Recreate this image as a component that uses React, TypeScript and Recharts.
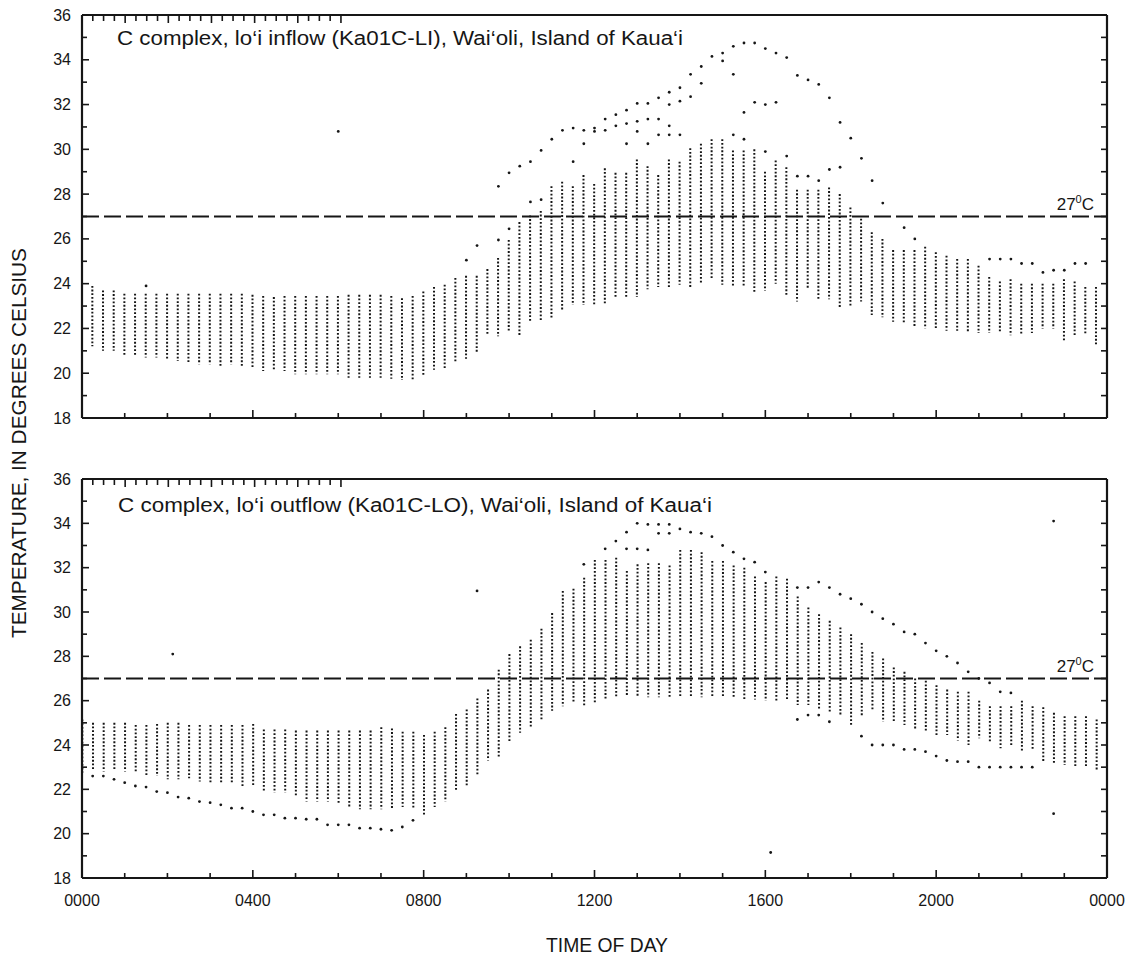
import React from "react";
import { ComposedChart, Bar, Scatter, XAxis, YAxis, ReferenceLine } from "recharts";

// 15-minute slots, slot 0 = 0000 ... slot 95 = 2345
const hourTicks = [0, 1, 2, 3, 4, 5, 6, 7, 8, 9, 10, 11, 12, 13, 14, 15, 16, 17, 18, 19, 20, 21, 22, 23, 24];
const degreeTicks = [18, 19, 20, 21, 22, 23, 24, 25, 26, 27, 28, 29, 30, 31, 32, 33, 34, 35, 36];
const timeLabels = ["0000", "0400", "0800", "1200", "1600", "2000", "0000"];

const inflowHigh = [
  23.9, 23.9, 23.7, 23.7, 23.55, 23.55, 23.55, 23.55, 23.55, 23.55,
  23.55, 23.55, 23.55, 23.55, 23.55, 23.55, 23.5, 23.45, 23.4, 23.45,
  23.45, 23.45, 23.45, 23.45, 23.45, 23.5, 23.5, 23.5, 23.5, 23.45,
  23.35, 23.45, 23.65, 23.85, 23.95, 24.25, 24.35, 24.35, 24.65, 25.15,
  25.95, 26.75, 27.05, 27.25, 28.35, 28.55, 28.35, 28.85, 28.45, 29.15,
  28.95, 28.95, 29.55, 29.25, 28.85, 29.55, 29.45, 30.05, 30.25, 30.45,
  30.45, 29.95, 29.95, 30.0, 29.0, 29.5, 29.2, 28.2, 28.2, 28.2,
  28.3, 28.0, 27.4, 26.9, 26.3, 26.0, 25.5, 25.5, 25.5, 25.65,
  25.4, 25.25, 25.1, 25.1, 24.8, 24.3, 24.1, 24.2, 24.0, 24.0,
  24.0, 24.0, 24.2, 24.1, 23.85, 23.85,
];

const inflowLow = [
  21.2, 21.2, 21.0, 21.0, 20.8, 20.8, 20.7, 20.7, 20.6, 20.55,
  20.5, 20.4, 20.4, 20.25, 20.4, 20.25, 20.2, 20.1, 20.1, 20.1,
  19.95, 19.95, 19.95, 19.95, 19.95, 19.8, 19.8, 19.8, 19.8, 19.75,
  19.7, 19.7, 19.85, 20.15, 20.15, 20.5, 20.65, 20.95, 21.7, 21.65,
  21.85, 21.7, 22.25, 22.35, 22.45, 22.8, 23.05, 23.05, 23.05, 23.1,
  23.35, 23.4, 23.4, 23.75, 23.85, 23.85, 23.95, 23.85, 24.05, 24.25,
  23.95, 23.85, 23.85, 23.6, 23.7, 24.0, 23.5, 23.2, 23.8, 23.3,
  23.3, 22.9, 23.0, 23.2, 22.6, 22.5, 22.3, 22.2, 22.1, 22.0,
  22.0, 21.9, 21.9, 21.8, 21.8, 21.8, 21.8, 21.7, 21.7, 21.8,
  22.0, 22.0, 21.4, 21.7, 21.7, 21.2,
];

// isolated readings outside the main band: [slot, temperature]
const inflowOutliers: [number, number][] = [
  [6, 23.9], [24, 30.8], [36, 25.05], [37, 25.7], [39, 25.95], [39, 28.35],
  [40, 26.45], [40, 28.95], [41, 29.25], [42, 27.65], [42, 29.45], [43, 27.75],
  [43, 29.95], [44, 30.45], [45, 30.85], [46, 29.45], [46, 30.95], [47, 30.25],
  [47, 30.85], [48, 30.8], [48, 30.95], [49, 30.85], [49, 31.35], [50, 31.05],
  [50, 31.55], [51, 30.25], [51, 31.15], [51, 31.75], [52, 30.8], [52, 31.25],
  [52, 32.05], [53, 30.25], [53, 31.35], [53, 32.05], [54, 30.65], [54, 31.35],
  [54, 32.3], [55, 30.65], [55, 31.05], [55, 32.0], [55, 32.55], [56, 30.65],
  [56, 32.15], [56, 32.75], [57, 32.35], [57, 33.35], [58, 32.95], [58, 33.7],
  [59, 34.15], [60, 33.95], [60, 34.3], [61, 30.65], [61, 33.35], [61, 34.6],
  [62, 30.45], [62, 31.65], [62, 34.75], [63, 32.1], [63, 34.75], [64, 29.9],
  [64, 32.0], [64, 34.5], [65, 32.1], [65, 34.3], [66, 29.7], [66, 34.1],
  [67, 28.8], [67, 33.3], [68, 28.8], [68, 33.1], [69, 28.6], [69, 32.9],
  [70, 29.1], [70, 32.3], [71, 29.2], [71, 31.2], [72, 30.5], [73, 29.6],
  [74, 28.6], [75, 27.6], [77, 26.5], [78, 26.0], [85, 25.1], [86, 25.1],
  [87, 25.1], [88, 24.9], [89, 24.9], [90, 24.5], [91, 24.6], [92, 24.6],
  [93, 24.9], [94, 24.9],
];

const outflowHigh = [
  25.15, 25.0, 25.0, 25.0, 25.0, 24.9, 24.9, 24.95, 25.0, 25.0,
  24.9, 24.9, 24.9, 24.9, 24.9, 24.9, 24.95, 24.7, 24.7, 24.7,
  24.65, 24.65, 24.65, 24.65, 24.65, 24.65, 24.65, 24.65, 24.8, 24.75,
  24.6, 24.6, 24.45, 24.6, 24.8, 25.4, 25.6, 26.1, 26.5, 27.4,
  28.1, 28.45, 28.75, 29.25, 29.95, 30.95, 31.05, 31.55, 32.35, 32.35,
  32.45, 31.85, 32.15, 32.2, 32.2, 32.1, 32.8, 32.8, 32.7, 32.3,
  32.3, 32.1, 32.0, 31.6, 31.35, 31.6, 31.5, 30.7, 30.2, 29.9,
  29.6, 29.3, 29.0, 28.6, 28.2, 27.9, 27.5, 27.3, 27.0, 26.9,
  26.7, 26.5, 26.4, 26.4, 26.0, 25.75, 25.75, 25.75, 26.0, 25.75,
  25.7, 25.45, 25.3, 25.3, 25.3, 25.15,
];

const outflowLow = [
  22.75, 22.9, 22.8, 22.9, 22.8, 22.8, 22.6, 22.6, 22.45, 22.45,
  22.5, 22.35, 22.3, 22.3, 22.3, 22.15, 22.2, 21.9, 21.85, 21.85,
  21.7, 21.45, 21.45, 21.45, 21.4, 21.15, 21.1, 21.1, 21.1, 21.15,
  21.2, 21.15, 20.85, 21.2, 21.45, 21.9, 22.1, 22.65, 23.3, 23.45,
  24.15, 24.55, 24.75, 25.15, 25.55, 25.75, 25.9, 25.75, 25.9, 26.05,
  26.2, 26.2, 26.2, 26.15, 26.15, 26.15, 26.15, 26.15, 26.15, 26.15,
  26.15, 26.15, 26.0, 26.05, 26.0, 26.0, 26.0, 25.8, 25.8, 25.65,
  25.45, 25.35, 24.9, 25.3, 25.6, 25.05, 25.05, 24.9, 24.7, 24.6,
  24.45, 24.45, 24.2, 24.0, 24.3, 24.1, 23.85, 24.0, 23.7, 23.8,
  23.25, 23.15, 23.1, 23.0, 23.0, 22.85,
];

const outflowOutliers: [number, number][] = [
  [1, 22.6], [2, 22.6], [3, 22.45], [4, 22.3], [5, 22.15], [6, 22.1], [7, 21.9],
  [8, 21.85], [9, 21.65], [10, 21.6], [11, 21.45], [12, 21.4], [13, 21.3],
  [14, 21.15], [15, 21.15], [16, 21.0], [17, 20.85], [18, 20.85], [19, 20.7],
  [20, 20.7], [21, 20.65], [22, 20.65], [23, 20.4], [24, 20.4], [25, 20.4],
  [26, 20.25], [27, 20.25], [28, 20.2], [29, 20.15], [30, 20.3], [31, 20.6],
  [8.5, 28.1], [37, 30.95], [64.5, 19.15], [91, 34.1], [91, 20.9],
  [47, 32.15], [49, 32.85], [50, 33.2], [51, 33.6], [51, 32.85], [52, 34.0],
  [52, 32.85], [53, 33.95], [53, 32.8], [54, 33.95], [54, 33.55], [55, 33.95],
  [55, 33.55], [56, 33.75], [57, 33.6], [58, 33.55], [59, 33.4], [60, 33.0],
  [61, 32.7], [62, 32.4], [63, 32.25], [64, 31.8], [67, 31.1], [68, 31.1],
  [69, 31.35], [70, 31.1], [71, 30.8], [72, 30.6], [73, 30.35], [74, 30.0],
  [75, 29.7], [76, 29.45], [77, 29.1], [78, 29.0], [79, 28.6], [80, 28.25],
  [81, 28.0], [82, 27.7], [83, 27.3], [84, 27.0], [85, 26.8], [86, 26.4],
  [87, 26.35], [67, 25.15], [68, 25.35], [69, 25.35], [70, 25.05], [73, 24.4],
  [74, 24.0], [75, 24.0], [76, 24.0], [77, 23.8], [78, 23.8], [79, 23.7],
  [80, 23.5], [81, 23.3], [82, 23.25], [83, 23.25], [84, 23.0], [85, 23.0],
  [86, 23.0], [87, 23.0], [88, 23.0], [89, 23.0],
];

const threshold = 27;

const INK = "#161616";
const FONT = "'Liberation Sans', Arial, Helvetica, sans-serif";

const toColumns = (high: number[], low: number[]) =>
  high.map((h, i) => ({ hour: i / 4, range: [low[i], h] }));
const toPoints = (pts: [number, number][]) =>
  pts.map(([slot, temp]) => ({ hour: slot / 4, temp }));

const DottedColumn = (props: any) => {
  const { x, y, width, height } = props;
  if (x == null || y == null) return null;
  const cx = x + width / 2;
  return (
    <line
      x1={cx}
      x2={cx}
      y1={y}
      y2={y + height}
      stroke={INK}
      strokeWidth={2}
      strokeDasharray="1.8 1.9"
    />
  );
};

const Speck = (props: any) => (
  <circle cx={props.cx} cy={props.cy} r={1.4} fill={INK} />
);

const BottomTick = (props: any) => {
  const { x, y, payload, showLabel } = props;
  const hour = payload.value as number;
  const major = hour % 4 === 0;
  return (
    <g>
      <line x1={x} x2={x} y1={y} y2={y - (major ? 8 : 5)} stroke={INK} strokeWidth={1.6} />
      {showLabel && major && (
        <text x={x} y={y + 28} textAnchor="middle" fontSize={16} fontFamily={FONT} fill={INK}>
          {timeLabels[hour / 4]}
        </text>
      )}
    </g>
  );
};

const TopTick = (props: any) => {
  const { x, y, payload } = props;
  const major = payload.value % 4 === 0;
  return <line x1={x} x2={x} y1={y} y2={y + (major ? 8 : 6)} stroke={INK} strokeWidth={1.6} />;
};

const LeftTick = (props: any) => {
  const { x, y, payload } = props;
  const major = payload.value % 2 === 0;
  return (
    <g>
      <line x1={x} x2={x + (major ? 7 : 5)} y1={y} y2={y} stroke={INK} strokeWidth={1.6} />
      {major && (
        <text x={x - 11} y={y + 5.5} textAnchor="end" fontSize={16} fontFamily={FONT} fill={INK}>
          {payload.value}
        </text>
      )}
    </g>
  );
};

const RightTick = (props: any) => {
  const { x, y } = props;
  return <line x1={x} x2={x - 6} y1={y} y2={y} stroke={INK} strokeWidth={1.6} />;
};

const ThresholdLabel = (props: any) => {
  const vb = props.viewBox;
  if (!vb) return null;
  return (
    <text x={vb.x + vb.width - 13} y={vb.y - 7} textAnchor="end" fontSize={17} fontFamily={FONT} fill={INK}>
      27<tspan fontSize={11} dy={-7}>0</tspan>
      <tspan dy={7}>C</tspan>
    </text>
  );
};

const frame = { stroke: INK, strokeWidth: 2.2 };

function Panel({
  high,
  low,
  outliers,
  height,
  margin,
  showTimeLabels,
}: {
  high: number[];
  low: number[];
  outliers: [number, number][];
  height: number;
  margin: { top: number; right: number; bottom: number; left: number };
  showTimeLabels: boolean;
}) {
  return (
    <ComposedChart width={1141} height={height} data={toColumns(high, low)} margin={margin}>
      <XAxis
        dataKey="hour"
        type="number"
        domain={[0, 24]}
        ticks={hourTicks}
        interval={0}
        allowDataOverflow
        height={5}
        tickSize={0}
        tickMargin={0}
        tickLine={false}
        axisLine={frame}
        tick={(p: any) => <BottomTick {...p} showLabel={showTimeLabels} />}
      />
      <XAxis
        xAxisId="top"
        orientation="top"
        type="number"
        domain={[0, 24]}
        ticks={hourTicks}
        interval={0}
        allowDataOverflow
        height={5}
        tickSize={0}
        tickMargin={0}
        tickLine={false}
        axisLine={frame}
        tick={(p: any) => <TopTick {...p} />}
      />
      <YAxis
        type="number"
        domain={[18, 36]}
        ticks={degreeTicks}
        interval={0}
        allowDataOverflow
        width={60}
        tickSize={0}
        tickMargin={0}
        tickLine={false}
        axisLine={frame}
        tick={(p: any) => <LeftTick {...p} />}
      />
      <YAxis
        yAxisId="right"
        orientation="right"
        type="number"
        domain={[18, 36]}
        ticks={degreeTicks}
        interval={0}
        allowDataOverflow
        width={5}
        tickSize={0}
        tickMargin={0}
        tickLine={false}
        axisLine={frame}
        tick={(p: any) => <RightTick {...p} />}
      />
      <ReferenceLine
        y={threshold}
        stroke={INK}
        strokeWidth={1.8}
        strokeDasharray="17 5"
        label={<ThresholdLabel />}
      />
      <Bar dataKey="range" barSize={2} shape={<DottedColumn />} isAnimationActive={false} />
      <Scatter data={toPoints(outliers)} dataKey="temp" shape={<Speck />} isAnimationActive={false} />
    </ComposedChart>
  );
}

export default function App() {
  return (
    <div
      style={{
        position: "absolute",
        left: 0,
        top: 0,
        width: 1141,
        height: 962,
        background: "white",
        fontFamily: FONT,
      }}
    >
      <div style={{ position: "absolute", left: 0, top: 0 }}>
        <Panel
          high={inflowHigh}
          low={inflowLow}
          outliers={inflowOutliers}
          height={440}
          margin={{ top: 10, right: 29, bottom: 17, left: 22 }}
          showTimeLabels={false}
        />
      </div>
      <div style={{ position: "absolute", left: 0, top: 450 }}>
        <Panel
          high={outflowHigh}
          low={outflowLow}
          outliers={outflowOutliers}
          height={512}
          margin={{ top: 24, right: 29, bottom: 79, left: 22 }}
          showTimeLabels={true}
        />
      </div>
      <svg
        width={1141}
        height={962}
        style={{ position: "absolute", left: 0, top: 0, pointerEvents: "none" }}
      >
        <text x={117} y={45} fontSize={20} textLength={566} lengthAdjust="spacingAndGlyphs" fontFamily={FONT} fill={INK}>
          C complex, lo‘i inflow (Ka01C-LI), Wai‘oli, Island of Kaua‘i
        </text>
        <text x={118} y={512} fontSize={20} textLength={594} lengthAdjust="spacingAndGlyphs" fontFamily={FONT} fill={INK}>
          C complex, lo‘i outflow (Ka01C-LO), Wai‘oli, Island of Kaua‘i
        </text>
        <text x={607} y={952} textAnchor="middle" fontSize={21} textLength={122} lengthAdjust="spacingAndGlyphs" fontFamily={FONT} fill={INK}>
          TIME OF DAY
        </text>
        <text
          x={0}
          y={0}
          transform="translate(26, 443) rotate(-90)"
          textAnchor="middle"
          fontSize={20}
          textLength={390}
          lengthAdjust="spacingAndGlyphs"
          fontFamily={FONT}
          fill={INK}
        >
          TEMPERATURE, IN DEGREES CELSIUS
        </text>
      </svg>
    </div>
  );
}
